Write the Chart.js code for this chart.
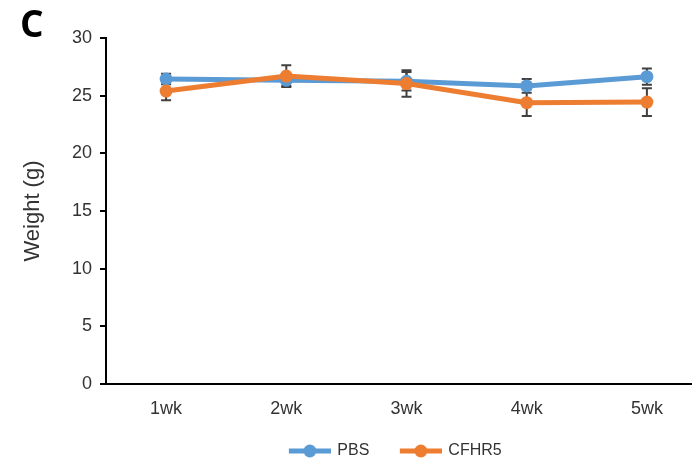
<!DOCTYPE html>
<html>
<head>
<meta charset="utf-8">
<script src="https://cdn.jsdelivr.net/npm/chart.js@4/dist/chart.umd.min.js"></script>
<style>
  html, body { margin: 0; padding: 0; background: #fff; overflow: hidden; width: 692px; height: 464px; }
  #wrap { position: absolute; left: 0; top: 0; width: 790px; height: 469px; }
</style>
</head>
<body>
<div id="wrap"><canvas id="c" width="790" height="469"></canvas></div>
<script>
// ---- data ----
const categories = ['1wk', '2wk', '3wk', '4wk', '5wk'];
const pbsValues   = [26.45, 26.35, 26.25, 25.85, 26.65];
const pbsErrors   = [0.45, 0.5, 0.8, 0.6, 0.7];
const cfhr5Values = [25.4, 26.7, 26.05, 24.4, 24.45];
const cfhr5Errors = [0.8, 0.95, 1.15, 1.15, 1.2];
const yTicks = [0, 5, 10, 15, 20, 25, 30];

const BLUE = '#5B9BD5';
const ORANGE = '#ED7D31';
const TEXT = '#333333';
const TICK_FONT = { family: "'Liberation Sans', Arial, sans-serif", size: 18 };
const LEGEND_FONT = { family: "'Liberation Sans', Arial, sans-serif", size: 16 };
const ICON_MARGIN = 5;

function legendIcon(color) {
  const m = ICON_MARGIN;
  const cv = document.createElement('canvas');
  cv.width = 42 + 2 * m; cv.height = 14;
  const g = cv.getContext('2d');
  g.strokeStyle = color; g.lineWidth = 5;
  g.beginPath(); g.moveTo(2 * m, 7); g.lineTo(2 * m + 42, 7); g.stroke();
  g.fillStyle = color; g.beginPath(); g.arc(2 * m + 21, 7, 6.5, 0, Math.PI * 2); g.fill();
  return cv;
}

const errorBars = {
  id: 'errorBars',
  beforeDatasetsDraw(chart) {
    const ctx = chart.ctx;
    const y = chart.scales.y;
    ctx.save();
    ctx.strokeStyle = '#404040';
    ctx.lineWidth = 2;
    chart.data.datasets.forEach((ds, di) => {
      const meta = chart.getDatasetMeta(di);
      ds.errors.forEach((e, i) => {
        const px = meta.data[i].x;
        const top = y.getPixelForValue(ds.data[i] + e);
        const bot = y.getPixelForValue(ds.data[i] - e);
        ctx.beginPath();
        ctx.moveTo(px, top); ctx.lineTo(px, bot);
        ctx.moveTo(px - 5, top); ctx.lineTo(px + 5, top);
        ctx.moveTo(px - 5, bot); ctx.lineTo(px + 5, bot);
        ctx.stroke();
      });
    });
    ctx.restore();
  }
};

// shift the legend so it sits where the reference places it
const legendShift = {
  id: 'legendShift',
  afterUpdate(chart) {
    const lg = chart.legend;
    if (lg) { lg.left += 27.5; lg.right += 27.5; }
  }
};

new Chart(document.getElementById('c'), {
  type: 'line',
  data: {
    labels: categories,
    datasets: [
      { label: 'PBS', data: pbsValues, errors: pbsErrors, borderColor: BLUE, backgroundColor: BLUE,
        borderWidth: 5, pointRadius: 6.5, pointBackgroundColor: BLUE, pointBorderWidth: 0,
        order: 2, tension: 0 },
      { label: 'CFHR5', data: cfhr5Values, errors: cfhr5Errors, borderColor: ORANGE, backgroundColor: ORANGE,
        borderWidth: 5, pointRadius: 6.5, pointBackgroundColor: ORANGE, pointBorderWidth: 0,
        order: 1, tension: 0 }
    ]
  },
  options: {
    responsive: false,
    animation: false,
    devicePixelRatio: 1,
    layout: { padding: { left: 20, right: 83, top: 0, bottom: 0 } },
    plugins: {
      tooltip: { enabled: false },
      title: {
        display: true, text: 'C', align: 'start', color: '#000',
        font: { family: "'Open Sans', sans-serif", size: 37, weight: 'bold', lineHeight: 0.65 },
        padding: { top: 14, bottom: 0 }
      },
      legend: {
        position: 'bottom',
        labels: {
          usePointStyle: true, pointStyleWidth: 39 + 2 * ICON_MARGIN, boxHeight: 14,
          color: TEXT, padding: 22,
          font: LEGEND_FONT,
          generateLabels(chart) {
            return chart.data.datasets.map((ds, i) => ({
              text: ds.label, datasetIndex: i, pointStyle: legendIcon(ds.borderColor),
              fillStyle: ds.borderColor, strokeStyle: ds.borderColor, lineWidth: 0,
              fontColor: TEXT, hidden: false
            }));
          }
        }
      }
    },
    scales: {
      x: {
        offset: true,
        grid: { display: false, drawTicks: false },
        border: { display: true, color: '#000', width: 2 },
        ticks: { color: TEXT, padding: 14, font: TICK_FONT },
        afterFit: (s) => { s.height = 37; }
      },
      y: {
        min: 0, max: 30,
        afterBuildTicks: (s) => { s.ticks = yTicks.map(v => ({ value: v })); },
        grid: { display: true, drawOnChartArea: false, drawTicks: true, tickLength: 6, color: '#000', lineWidth: 2 },
        border: { display: true, color: '#000', width: 2 },
        ticks: { color: TEXT, padding: 8, font: TICK_FONT },
        title: { display: true, text: 'Weight (g)', color: TEXT, padding: { top: 2, bottom: 0 },
                 font: { family: "'Liberation Sans', Arial, sans-serif", size: 22, lineHeight: 1 } },
        afterFit: (s) => { s.width = 86; }
      }
    }
  },
  plugins: [errorBars, legendShift]
});
</script>
</body>
</html>
